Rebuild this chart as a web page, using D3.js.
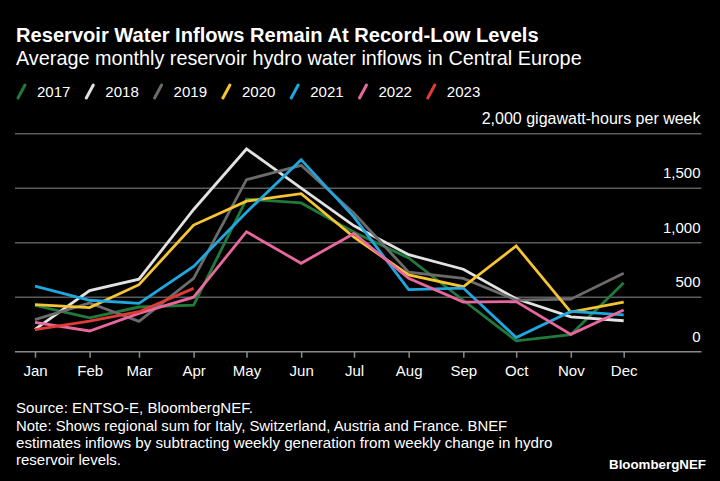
<!DOCTYPE html>
<html>
<head>
<meta charset="utf-8">
<script src="https://cdn.jsdelivr.net/npm/d3@7"></script>
<style>
  html, body { margin: 0; padding: 0; background: #000; }
  svg { display: block; }
  text { font-family: "Liberation Sans", Arial, sans-serif; fill: #fff; }
</style>
</head>
<body>
<svg id="chart" width="720" height="481"></svg>
<script>
// ---- data ----
const months = ["Jan","Feb","Mar","Apr","May","Jun","Jul","Aug","Sep","Oct","Nov","Dec"];
const years = ["2017","2018","2019","2020","2021","2022","2023"];
const v2017 = [425, 310, 410, 428, 1400, 1365, 1095, 860, 472, 100, 156, 633];
const v2018 = [205, 560, 665, 1305, 1860, 1500, 1155, 890, 757, 485, 320, 284];
const v2019 = [294, 447, 278, 673, 1578, 1710, 1270, 730, 673, 474, 482, 719];
const v2020 = [432, 405, 615, 1162, 1381, 1450, 1050, 704, 596, 970, 364, 455];
const v2021 = [602, 472, 443, 783, 1280, 1762, 1235, 569, 584, 130, 370, 337];
const v2022 = [268, 190, 352, 500, 1101, 811, 1085, 673, 455, 459, 159, 383];
const v2023 = [202, 281, 367, 581];
const yTicks = [0, 500, 1000, 1500, 2000];
const colors = ["#1f7a3b", "#e2e2e2", "#6b6b6b", "#f7c531", "#1fa8df", "#e8679e", "#e23b34"];

const seriesValues = [v2017, v2018, v2019, v2020, v2021, v2022, v2023];
const series = years.map((y, i) => ({
  year: y, color: colors[i],
  values: seriesValues[i].map((v, m) => ({ date: new Date(2021, m, 1), value: v }))
}));

const svg = d3.select("#chart");

function fit(sel, target) {
  const node = sel.node();
  const fs = parseFloat(sel.style("font-size"));
  const w = node.getComputedTextLength();
  if (w > 0) sel.style("font-size", (fs * target / w).toFixed(2) + "px");
  return sel;
}

// ---- header ----
fit(svg.append("text").attr("x", 16).attr("y", 42)
  .style("font-size", "20px").style("font-weight", "bold")
  .text("Reservoir Water Inflows Remain At Record-Low Levels"), 523);
fit(svg.append("text").attr("x", 16).attr("y", 65)
  .style("font-size", "17px")
  .text("Average monthly reservoir hydro water inflows in Central Europe"), 566);

// legend
const lg = svg.append("g");
years.forEach((y, i) => {
  const x0 = 18 + i * 68.3;
  lg.append("line").attr("x1", x0).attr("y1", 98).attr("x2", x0 + 7).attr("y2", 85)
    .attr("stroke", colors[i]).attr("stroke-width", 3).attr("stroke-linecap", "round");
  const t = lg.append("text").attr("x", x0 + 19).attr("y", 97)
    .style("font-size", "15px").text(y);
  fit(t, 33.5);
});

// ---- scales ----
const x = d3.scaleTime()
  .domain([new Date(2021, 0, 1), new Date(2021, 11, 1)])
  .range([35, 623.7]);
const y = d3.scaleLinear().domain([0, 2000]).range([351.7, 133.7]);

// gridlines
const grid = svg.append("g");
yTicks.forEach(t => {
  grid.append("line").attr("x1", 15).attr("x2", 701.5)
    .attr("y1", y(t)).attr("y2", y(t))
    .attr("stroke", t === 0 ? "#8a8a8a" : "#5c5c5c").attr("stroke-width", 1.5);
});
// y labels
yTicks.forEach(t => {
  const label = t === 2000 ? "2,000 gigawatt-hours per week" : d3.format(",")(t);
  const tx = grid.append("text").attr("x", 700.5).attr("y", y(t) - 10)
    .attr("text-anchor", "end").style("font-size", "15px").text(label);
  if (t === 2000) fit(tx, 219);
});

// x axis
const xAxis = d3.axisBottom(x)
  .tickValues(months.map((m, i) => new Date(2021, i, 1)))
  .tickFormat((d, i) => months[i])
  .tickSize(6).tickPadding(8);
const ax = svg.append("g").attr("transform", `translate(0,${y(0)})`).call(xAxis);
ax.select(".domain").remove();
ax.selectAll(".tick line").attr("stroke", "#8a8a8a").attr("stroke-width", 1.5);
ax.selectAll(".tick text").attr("fill", "#fff")
  .style("font-family", '"Liberation Sans", Arial, sans-serif')
  .style("font-size", "15px").attr("dy", "0.71em");

// lines
const line = d3.line().x(d => x(d.date)).y(d => y(d.value));
svg.append("g").selectAll("path").data(series).join("path")
  .attr("d", d => line(d.values))
  .attr("fill", "none")
  .attr("stroke", d => d.color)
  .attr("stroke-width", 2.8)
  .attr("stroke-linejoin", "miter")
  .attr("stroke-linecap", "butt");

// ---- footer ----
const foot = [
  ["Source: ENTSO-E, BloombergNEF.", 413, 237],
  ["Note: Shows regional sum for Italy, Switzerland, Austria and France. BNEF", 431, 491],
  ["estimates inflows by subtracting weekly generation from weekly change in hydro", 448, 537],
  ["reservoir levels.", 465, 105]
];
foot.forEach(([t, yy, w]) => {
  fit(svg.append("text").attr("x", 16).attr("y", yy).style("font-size", "14px").text(t), w);
});
fit(svg.append("text").attr("x", 706).attr("y", 469).attr("text-anchor", "end")
  .style("font-size", "14px").style("font-weight", "bold").text("BloombergNEF"), 97);
</script>
</body>
</html>
